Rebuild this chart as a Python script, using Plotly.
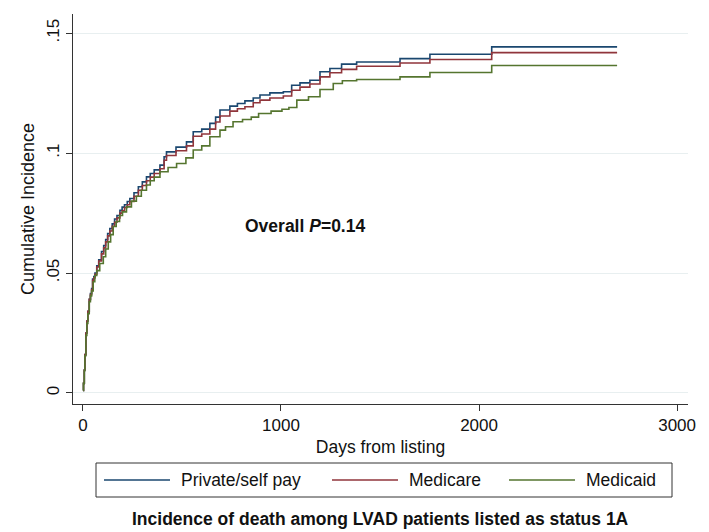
import plotly.graph_objects as go

series_names = ["Private/self pay", "Medicare", "Medicaid"]
series_colors = ["#1a476f", "#90353b", "#55752f"]

private_days = [1, 3, 7, 10, 15, 20, 25, 32, 38, 44, 49, 55, 61, 70, 80, 94, 105, 115, 125, 136, 148, 160,
                172, 187, 198, 210, 224, 237, 258, 280, 300, 321, 340, 360, 389, 410, 422,
                470, 523, 557, 600, 641, 670, 692, 742, 780, 818, 860, 894, 944, 1012, 1054, 1096, 1146,
                1197, 1247, 1306, 1382, 1601, 1752, 2064, 2697]
private_vals = [0.001, 0.004, 0.0096, 0.016, 0.025, 0.030, 0.034, 0.039, 0.0415, 0.0435, 0.0475, 0.0485,
                0.050, 0.053, 0.0555, 0.059, 0.0615, 0.064, 0.0665, 0.0686, 0.0705, 0.0725,
                0.074, 0.0762, 0.0775, 0.0785, 0.0798, 0.0811, 0.0835, 0.086, 0.088, 0.0901, 0.0915,
                0.093, 0.095, 0.0985, 0.1005, 0.1025, 0.1047, 0.1089,
                0.110, 0.1124, 0.115, 0.118, 0.1196, 0.1207, 0.1218, 0.123, 0.1242, 0.1251, 0.1256, 0.1283,
                0.1293, 0.1304, 0.1339, 0.1353, 0.1371, 0.138, 0.1394, 0.1412, 0.1443, 0.1443]

medicare_days = private_days
medicare_vals = [0.001, 0.004, 0.0096, 0.016, 0.025, 0.030, 0.034, 0.039, 0.041, 0.043, 0.047, 0.048,
                 0.0495, 0.0525, 0.055, 0.058, 0.0605, 0.063, 0.0655, 0.0675, 0.0695, 0.0712,
                 0.073, 0.075, 0.076, 0.0773, 0.0785, 0.0798, 0.082, 0.0845, 0.0865, 0.0885, 0.090,
                 0.0915, 0.0935, 0.097, 0.099, 0.101, 0.103, 0.107,
                 0.108, 0.110, 0.113, 0.1155, 0.1175, 0.1185, 0.1193, 0.121, 0.1221, 0.123, 0.1238, 0.1262,
                 0.1275, 0.1288, 0.1318, 0.1335, 0.1349, 0.1362, 0.1376, 0.139, 0.1419, 0.1419]

medicaid_days = [1, 3, 7, 10, 15, 20, 25, 32, 38, 44, 52, 60, 70, 85, 103, 115, 128, 140, 153, 168, 185, 200,
                 220, 245, 270, 295, 321, 340, 360, 389, 430, 473, 520, 557,
                 600, 641, 692, 720, 758, 806, 850, 887, 950, 1005, 1040, 1080, 1139, 1197, 1264, 1310, 1382,
                 1601, 1752, 2064, 2697]
medicaid_vals = [0.001, 0.004, 0.0093, 0.0155, 0.024, 0.029, 0.033, 0.038, 0.0405, 0.0425, 0.0464, 0.049,
                 0.051, 0.054, 0.0568, 0.060, 0.063, 0.066, 0.0694, 0.0715, 0.074, 0.0755,
                 0.0776, 0.080, 0.082, 0.0845, 0.0867, 0.0885, 0.090, 0.0922, 0.094, 0.0957, 0.098, 0.1013,
                 0.103, 0.1068, 0.1096, 0.111, 0.1131, 0.114, 0.115, 0.1165, 0.1175, 0.1183, 0.119, 0.1221,
                 0.1235, 0.1265, 0.129, 0.1302, 0.1307, 0.1318, 0.1336, 0.1365, 0.1365]

x_ticks = [0, 1000, 2000, 3000]
x_tick_labels = ["0", "1000", "2000", "3000"]
y_ticks = [0, 0.05, 0.1, 0.15]
y_tick_labels = ["0", ".05", ".1", ".15"]

FONT = "Liberation Sans, Arial, sans-serif"

fig = go.Figure()
all_days = [private_days, medicare_days, medicaid_days]
all_vals = [private_vals, medicare_vals, medicaid_vals]
for name, color, d, v in zip(series_names, series_colors, all_days, all_vals):
    fig.add_trace(go.Scatter(x=d, y=v, mode="lines", name=name, line=dict(color=color, width=1.6, shape="hv"),
                             showlegend=False, hoverinfo="skip"))

fig.update_layout(
    width=709, height=532,
    margin=dict(l=73, r=21, t=14, b=128),
    paper_bgcolor="white", plot_bgcolor="white",
    font=dict(family=FONT, size=17.5, color="#111111"),
    xaxis=dict(range=[-50, 3055], tickvals=x_ticks, ticktext=x_tick_labels, showgrid=False,
               showline=True, linecolor="#333333", linewidth=1, ticks="outside", ticklen=6,
               tickcolor="#333333", zeroline=False, tickfont=dict(size=17),
               title=dict(text="Days from listing", standoff=6, font=dict(size=17.5))),
    yaxis=dict(range=[-0.0046, 0.158], tickvals=y_ticks, ticktext=y_tick_labels, showgrid=True,
               gridcolor="#e8eff0", gridwidth=1, showline=True, linecolor="#333333", linewidth=1,
               ticks="outside", ticklen=6, tickcolor="#333333", tickangle=-90, zeroline=False,
               tickfont=dict(size=17),
               title=dict(text="Cumulative Incidence", standoff=4, font=dict(size=18))),
)

fig.add_annotation(x=1120, y=0.0696, xref="x", yref="y", text="<b>Overall <i>P</i>=0.14</b>",
                   showarrow=False, font=dict(size=17.5, color="#111111"))

# Legend drawn in paper coordinates below the plot
def px_to_paper_x(px):
    return (px - 73) / 615.0

def px_to_paper_y(py):
    return (404 - py) / 390.0

fig.add_shape(type="rect", xref="paper", yref="paper",
              x0=px_to_paper_x(96), x1=px_to_paper_x(672), y0=px_to_paper_y(497), y1=px_to_paper_y(463),
              line=dict(color="#333333", width=1), fillcolor="white")
leg_y = px_to_paper_y(480)
line_starts = [104, 332, 509]
for name, color, lx in zip(series_names, series_colors, line_starts):
    fig.add_shape(type="line", xref="paper", yref="paper", x0=px_to_paper_x(lx), x1=px_to_paper_x(lx + 66),
                  y0=leg_y, y1=leg_y, line=dict(color=color, width=1.6))
    fig.add_annotation(x=px_to_paper_x(lx + 75), y=leg_y, xref="paper", yref="paper", text=name,
                       showarrow=False, xanchor="left", yanchor="middle", font=dict(size=17.5, color="#111111"))

fig.add_annotation(x=px_to_paper_x(380), y=px_to_paper_y(519), xref="paper", yref="paper",
                   text="<b>Incidence of death among LVAD patients listed as status 1A</b>",
                   showarrow=False, xanchor="center", yanchor="middle", font=dict(size=17.5, color="#111111"))

fig.write_html("out.html", config={"displayModeBar": False},
               post_script="document.body.style.margin='0px';")
